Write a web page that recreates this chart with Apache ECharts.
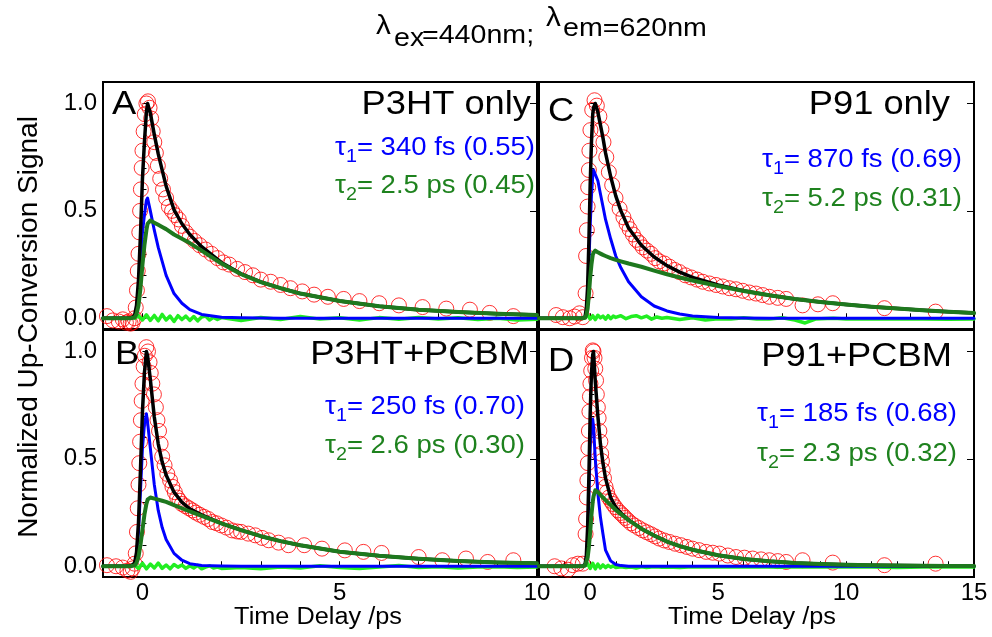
<!DOCTYPE html>
<html>
<head>
<meta charset="utf-8">
<title>Up-conversion decays</title>
<script src="https://cdn.jsdelivr.net/npm/echarts@6/dist/echarts.min.js"></script>
<style>
  html, body { margin: 0; padding: 0; background: #fff; }
  #chart { width: 992px; height: 637px; }
</style>
</head>
<body>
<div id="chart"></div>
<script>
// ---------- tick values ----------
const yTicksMinor = [0, 0.1, 0.2, 0.3, 0.4, 0.5, 0.6, 0.7, 0.8, 0.9, 1.0];
const yTicksMajor = [0, 0.5, 1.0];
const xTicksTopLeft = [0, 2.5, 5, 7.5];
const xTicksTopRight = [0, 2.5, 5, 7.5, 10, 12.5];
const xTicksBottomLeft = [0, 1, 2, 3, 4, 5, 6, 7, 8, 9];
const xTicksBottomRight = [-1, 0, 1, 2, 3, 4, 5, 6, 7, 8, 9, 10, 11, 12, 13, 14];
const xLabelsLeft = [0, 5, 10];
const xLabelsRight = [0, 5, 10, 15];

// ---------- time grids of the fitted curves (ps) ----------
const tLeft = [-1, -0.4, -0.3, -0.25, -0.2, -0.15, -0.1, -0.05, 0, 0.05, 0.1, 0.13, 0.2, 0.3, 0.4, 0.5, 0.6, 0.8, 1, 1.2, 1.5, 2, 2.5, 3, 3.5, 4, 5, 6, 7, 8, 9, 10];
const tRight = [-2, -0.4, -0.3, -0.25, -0.2, -0.15, -0.1, -0.05, 0, 0.05, 0.1, 0.13, 0.2, 0.3, 0.4, 0.5, 0.6, 0.8, 1, 1.2, 1.5, 2, 2.5, 3, 3.5, 4, 5, 6, 7, 8, 9, 10, 11, 12, 13, 14, 15];

// ---------- A: P3HT only ----------
const measA_t = [-0.9, -0.75, -0.6, -0.5, -0.42, -0.35, -0.3, -0.25, -0.2, -0.17, -0.14, -0.12, -0.1, -0.08, -0.06, -0.04, -0.02, 0, 0.03, 0.06, 0.1, 0.14, 0.18, 0.22, 0.26, 0.3, 0.34, 0.39, 0.45, 0.52, 0.6, 0.67, 0.75, 0.83, 0.92, 1.0, 1.1, 1.2, 1.32, 1.45, 1.6, 1.75, 1.9, 2.05, 2.2, 2.4, 2.6, 2.8, 3.0, 3.25, 3.5, 3.75, 4.05, 4.35, 4.7, 5.1, 5.5, 6.0, 6.5, 7.1, 7.7, 8.3, 8.8, 9.4];
const measA = [0.01, -0.01, -0.015, -0.005, -0.02, -0.015, -0.025, -0.02, 0.0, 0.05, 0.13, 0.22, 0.3, 0.4, 0.5, 0.6, 0.7, 0.78, 0.87, 0.95, 1.0, 1.01, 0.98, 0.93, 0.87, 0.82, 0.77, 0.71, 0.65, 0.6, 0.56, 0.52, 0.5, 0.48, 0.46, 0.43, 0.4, 0.38, 0.36, 0.34, 0.32, 0.3, 0.28, 0.26, 0.25, 0.23, 0.215, 0.2, 0.18, 0.17, 0.155, 0.14, 0.125, 0.11, 0.1, 0.09, 0.08, 0.07, 0.06, 0.052, 0.045, 0.04, 0.025, 0.01];
const fitA = [0, 0, 0, 0.003, 0.012, 0.06, 0.18, 0.39, 0.65, 0.82, 0.96, 1.0, 0.955, 0.855, 0.765, 0.69, 0.615, 0.505, 0.44, 0.39, 0.333, 0.26, 0.207, 0.169, 0.14, 0.115, 0.08, 0.056, 0.04, 0.029, 0.021, 0.015];
const fastA = [0, 0, 0, 0.002, 0.008, 0.04, 0.12, 0.25, 0.4, 0.48, 0.55, 0.56, 0.5, 0.41, 0.33, 0.265, 0.2, 0.115, 0.07, 0.04, 0.018, 0.005, 0.002, 0.001, 0, 0, 0, 0, 0, 0, 0, 0];
const slowA = [0, 0, 0, 0.001, 0.004, 0.02, 0.06, 0.14, 0.25, 0.34, 0.41, 0.44, 0.455, 0.445, 0.435, 0.425, 0.415, 0.39, 0.37, 0.35, 0.315, 0.255, 0.205, 0.168, 0.14, 0.115, 0.08, 0.056, 0.04, 0.029, 0.021, 0.015];

// ---------- B: P3HT+PCBM ----------
const measB_t = [-0.9, -0.67, -0.5, -0.38, -0.3, -0.25, -0.2, -0.17, -0.14, -0.12, -0.1, -0.08, -0.06, -0.04, -0.02, 0, 0.03, 0.06, 0.1, 0.14, 0.18, 0.21, 0.25, 0.29, 0.34, 0.38, 0.42, 0.46, 0.5, 0.56, 0.63, 0.7, 0.76, 0.82, 0.88, 0.94, 1.0, 1.09, 1.18, 1.27, 1.35, 1.45, 1.56, 1.67, 1.77, 1.88, 2.0, 2.13, 2.27, 2.4, 2.5, 2.68, 2.86, 3.03, 3.2, 3.45, 3.7, 4.1, 4.55, 5.13, 5.6, 6.06, 7.0, 7.6, 8.2, 8.75, 9.4];
const measB = [0.005, 0, -0.006, -0.02, -0.026, -0.01, 0.012, 0.06, 0.16, 0.27, 0.38, 0.48, 0.58, 0.68, 0.77, 0.85, 0.93, 0.98, 1.02, 1.0, 0.95, 0.9, 0.85, 0.8, 0.74, 0.68, 0.63, 0.57, 0.51, 0.47, 0.43, 0.4, 0.37, 0.345, 0.32, 0.305, 0.29, 0.28, 0.27, 0.26, 0.25, 0.24, 0.23, 0.22, 0.206, 0.2, 0.19, 0.18, 0.167, 0.162, 0.16, 0.152, 0.144, 0.132, 0.121, 0.11, 0.098, 0.098, 0.082, 0.074, 0.067, 0.062, 0.043, 0.028, 0.036, 0.02, 0.028];
const fitB = [0, 0, 0, 0.003, 0.014, 0.065, 0.205, 0.45, 0.72, 0.9, 1.0, 0.98, 0.87, 0.695, 0.57, 0.485, 0.425, 0.345, 0.298, 0.267, 0.239, 0.2, 0.168, 0.14, 0.117, 0.098, 0.068, 0.049, 0.035, 0.025, 0.018, 0.014];
const fastB = [0, 0, 0, 0.002, 0.01, 0.05, 0.16, 0.35, 0.55, 0.66, 0.71, 0.67, 0.55, 0.38, 0.26, 0.18, 0.125, 0.06, 0.028, 0.012, 0.004, 0.001, 0, 0, 0, 0, 0, 0, 0, 0, 0, 0];
const slowB = [0, 0, 0, 0.001, 0.004, 0.015, 0.045, 0.1, 0.17, 0.24, 0.29, 0.31, 0.32, 0.315, 0.31, 0.305, 0.3, 0.285, 0.27, 0.255, 0.235, 0.2, 0.168, 0.14, 0.117, 0.098, 0.068, 0.049, 0.035, 0.025, 0.018, 0.014];

// ---------- C: P91 only ----------
const measC_t = [-1.33, -1.07, -0.8, -0.61, -0.42, -0.29, -0.18, -0.16, -0.13, -0.1, -0.08, -0.05, -0.03, 0.01, 0.08, 0.17, 0.26, 0.36, 0.44, 0.52, 0.63, 0.73, 0.86, 0.99, 1.15, 1.3, 1.42, 1.54, 1.67, 1.8, 1.93, 2.06, 2.22, 2.38, 2.54, 2.7, 2.9, 3.1, 3.3, 3.49, 3.72, 3.95, 4.18, 4.4, 4.66, 4.92, 5.18, 5.44, 5.7, 5.96, 6.22, 6.48, 6.74, 7.0, 7.33, 7.66, 8.3, 8.9, 9.48, 11.5, 13.5];
const measC = [0.015, 0.005, 0, 0.008, 0.023, 0.005, 0.116, 0.29, 0.41, 0.52, 0.61, 0.69, 0.78, 0.876, 0.97, 1.015, 0.99, 0.94, 0.88, 0.82, 0.75, 0.68, 0.62, 0.56, 0.51, 0.47, 0.44, 0.415, 0.39, 0.365, 0.35, 0.33, 0.315, 0.3, 0.28, 0.265, 0.255, 0.24, 0.225, 0.215, 0.2, 0.19, 0.18, 0.17, 0.162, 0.155, 0.148, 0.14, 0.135, 0.128, 0.12, 0.115, 0.108, 0.1, 0.095, 0.09, 0.06, 0.065, 0.07, 0.047, 0.031];
const fitC = [0, 0, 0, 0, 0.007, 0.045, 0.145, 0.36, 0.62, 0.82, 0.95, 0.98, 1.0, 0.96, 0.9, 0.84, 0.77, 0.66, 0.57, 0.5, 0.42, 0.34, 0.285, 0.245, 0.215, 0.19, 0.155, 0.128, 0.107, 0.09, 0.076, 0.064, 0.054, 0.045, 0.037, 0.03, 0.024];
const fastC = [0, 0, 0, 0, 0.005, 0.03, 0.1, 0.25, 0.43, 0.57, 0.66, 0.69, 0.695, 0.64, 0.58, 0.52, 0.46, 0.37, 0.29, 0.235, 0.17, 0.1, 0.057, 0.034, 0.02, 0.011, 0.004, 0.001, 0, 0, 0, 0, 0, 0, 0, 0, 0];
const slowC = [0, 0, 0, 0, 0.002, 0.015, 0.045, 0.11, 0.19, 0.25, 0.295, 0.305, 0.315, 0.307, 0.301, 0.295, 0.29, 0.28, 0.272, 0.265, 0.255, 0.24, 0.222, 0.205, 0.19, 0.176, 0.15, 0.127, 0.107, 0.09, 0.076, 0.064, 0.054, 0.045, 0.037, 0.03, 0.024];

// ---------- D: P91+PCBM ----------
const measD_t = [-1.39, -1.13, -0.87, -0.68, -0.48, -0.29, -0.18, -0.16, -0.13, -0.11, -0.09, -0.07, -0.05, -0.03, -0.01, 0.01, 0.04, 0.07, 0.1, 0.13, 0.17, 0.2, 0.23, 0.26, 0.3, 0.33, 0.36, 0.4, 0.43, 0.46, 0.49, 0.54, 0.6, 0.66, 0.73, 0.81, 0.89, 0.98, 1.08, 1.18, 1.28, 1.37, 1.47, 1.6, 1.73, 1.9, 2.06, 2.22, 2.38, 2.54, 2.7, 2.9, 3.1, 3.32, 3.55, 3.78, 4.0, 4.26, 4.53, 4.79, 5.05, 5.38, 5.7, 6.03, 6.35, 6.68, 7.0, 7.33, 7.66, 8.3, 9.48, 11.5, 13.5];
const measD = [0, -0.01, -0.016, 0.005, 0.012, 0.012, 0.15, 0.22, 0.32, 0.4, 0.48, 0.55, 0.63, 0.72, 0.79, 0.85, 0.91, 0.97, 1.005, 1.0, 0.97, 0.92, 0.865, 0.8, 0.74, 0.69, 0.63, 0.58, 0.524, 0.49, 0.447, 0.41, 0.37, 0.345, 0.32, 0.305, 0.29, 0.275, 0.26, 0.248, 0.237, 0.225, 0.214, 0.2, 0.19, 0.178, 0.167, 0.158, 0.149, 0.139, 0.129, 0.12, 0.113, 0.105, 0.098, 0.09, 0.082, 0.075, 0.067, 0.063, 0.059, 0.05, 0.043, 0.04, 0.036, 0.032, 0.028, 0.024, 0.02, 0.028, 0.017, 0.005, 0.012];
const fitD = [0, 0, 0, 0.001, 0.009, 0.05, 0.18, 0.42, 0.71, 0.9, 0.985, 1.0, 0.86, 0.7, 0.57, 0.48, 0.41, 0.32, 0.275, 0.248, 0.216, 0.175, 0.143, 0.115, 0.094, 0.077, 0.051, 0.034, 0.023, 0.015, 0.01, 0.007, 0.005, 0.003, 0.002, 0.001, 0.001];
const fastD = [0, 0, 0, 0, 0.006, 0.04, 0.14, 0.33, 0.55, 0.67, 0.685, 0.65, 0.5, 0.34, 0.23, 0.15, 0.075, 0.025, 0.008, 0.003, 0, 0, 0, 0, 0, 0, 0, 0, 0, 0, 0, 0, 0, 0, 0, 0, 0];
const slowD = [0, 0, 0, 0, 0.003, 0.012, 0.04, 0.09, 0.16, 0.24, 0.3, 0.325, 0.354, 0.345, 0.333, 0.32, 0.308, 0.285, 0.262, 0.243, 0.215, 0.175, 0.143, 0.115, 0.094, 0.077, 0.051, 0.034, 0.023, 0.015, 0.01, 0.007, 0.005, 0.003, 0.002, 0.001, 0.001];

// ---------- fit residuals ----------
const residLeft_t = [-0.2, -0.1, 0, 0.1, 0.2, 0.3, 0.4, 0.5, 0.6, 0.7, 0.8, 0.9, 1.0, 1.1, 1.2, 1.3, 1.4, 1.5, 1.6, 1.7, 1.8, 1.9, 2.0, 2.5, 3, 3.5, 4, 4.5, 5, 5.5, 6, 6.5, 7, 7.5, 8, 8.5, 9, 9.5, 10];
const residA = [0, 0.012, -0.008, 0.016, -0.01, 0.013, -0.012, 0.018, -0.008, 0.01, -0.015, 0.012, -0.006, 0.01, -0.01, 0.008, -0.012, 0.006, 0.01, -0.008, 0.004, -0.006, 0.003, -0.01, 0.004, -0.006, 0.008, -0.004, 0.002, -0.008, 0.003, -0.005, 0.004, -0.003, 0.002, -0.006, 0, -0.008, -0.005];
const residB = [0.005, -0.01, 0.014, -0.012, 0.01, -0.008, 0.015, -0.01, 0.006, -0.012, 0.008, -0.004, 0.006, -0.01, 0.002, -0.008, 0.004, -0.012, -0.004, 0.002, -0.008, -0.004, -0.01, -0.006, -0.012, -0.004, -0.008, 0.002, -0.006, -0.01, -0.004, 0.004, -0.006, -0.002, -0.008, -0.004, -0.002, -0.006, -0.004];
const residRight_t = [-0.2, -0.1, 0, 0.1, 0.2, 0.3, 0.4, 0.5, 0.6, 0.7, 0.8, 0.9, 1.0, 1.2, 1.4, 1.6, 1.8, 2.0, 2.2, 2.4, 2.6, 2.8, 3.0, 3.5, 4, 4.5, 5, 5.5, 6, 6.5, 7, 7.5, 8, 8.4, 8.8, 9.5, 10, 11, 12, 13, 14, 15];
const residC = [0.004, 0.016, -0.004, 0.012, -0.006, 0.014, 0.002, 0.01, -0.004, 0.012, -0.002, 0.01, 0.004, 0.012, -0.002, 0.008, 0.012, 0.002, 0.01, -0.004, 0.006, 0, 0.004, -0.006, 0.002, -0.008, -0.002, -0.004, 0.002, -0.003, -0.004, 0.002, -0.008, -0.022, -0.004, 0, -0.003, -0.002, -0.004, -0.003, -0.005, -0.004];
const residD = [0.003, 0.012, -0.01, 0.014, -0.012, 0.01, -0.008, 0.006, -0.006, 0.004, -0.004, 0.002, -0.006, -0.002, -0.006, -0.004, -0.008, -0.002, -0.006, -0.004, -0.002, -0.005, -0.003, -0.006, -0.002, -0.004, -0.002, -0.003, -0.004, -0.002, -0.003, -0.005, -0.002, -0.003, -0.004, -0.002, -0.004, -0.003, -0.006, -0.004, -0.002, -0.003];

// ---------- panel annotations ----------
const panelLetters = ['A', 'B', 'C', 'D'];
const sampleNames = ['P3HT only', 'P3HT+PCBM', 'P91 only', 'P91+PCBM'];
const tau1Text = ['= 340 fs (0.55)', '= 250 fs (0.70)', '= 870 fs (0.69)', '= 185 fs (0.68)'];
const tau2Text = ['= 2.5 ps (0.45)', '= 2.6 ps (0.30)', '= 5.2 ps (0.31)', '= 2.3 ps (0.32)'];

// ---------- styling ----------
const FONT = '"Liberation Sans", Arial, Helvetica, sans-serif';
const C_MEAS = '#ff0000';
const C_FIT = '#000000';
const C_FAST = '#0000ff';
const C_SLOW = '#1e781e';
const C_SLOW_TXT = '#1e821e';
const C_RESID = '#22ee22';

const zip = (xs, ys) => xs.map((x, i) => [x, ys[i]]);

const panels = [
  { grid: { left: 103, top: 82, width: 434, height: 247 }, xr: [-1, 10], ticks: xTicksTopLeft, labels: null,
    meas: zip(measA_t, measA), fit: zip(tLeft, fitA), fast: zip(tLeft, fastA), slow: zip(tLeft, slowA), resid: zip(residLeft_t, residA), yLabels: true },
  { grid: { left: 103, top: 330, width: 434, height: 247 }, xr: [-1, 10], ticks: xTicksBottomLeft, labels: xLabelsLeft,
    meas: zip(measB_t, measB), fit: zip(tLeft, fitB), fast: zip(tLeft, fastB), slow: zip(tLeft, slowB), resid: zip(residLeft_t, residB), yLabels: true },
  { grid: { left: 539, top: 82, width: 435, height: 247 }, xr: [-2, 15], ticks: xTicksTopRight, labels: null,
    meas: zip(measC_t, measC), fit: zip(tRight, fitC), fast: zip(tRight, fastC), slow: zip(tRight, slowC), resid: zip(residRight_t, residC), yLabels: false },
  { grid: { left: 539, top: 330, width: 435, height: 247 }, xr: [-2, 15], ticks: xTicksBottomRight, labels: xLabelsRight,
    meas: zip(measD_t, measD), fit: zip(tRight, fitD), fast: zip(tRight, fastD), slow: zip(tRight, slowD), resid: zip(residRight_t, residD), yLabels: false }
];

const grid = [], xAxis = [], yAxis = [], series = [];
panels.forEach((p, i) => {
  grid.push(Object.assign({ show: true, borderColor: '#000', borderWidth: 2, backgroundColor: 'transparent' }, p.grid));
  xAxis.push({
    gridIndex: i, type: 'value', min: p.xr[0], max: p.xr[1],
    axisLine: { show: false }, splitLine: { show: false },
    axisTick: { show: true, inside: true, length: 5, customValues: p.ticks, lineStyle: { color: '#000', width: 1 } },
    axisLabel: p.labels ? { show: true, customValues: p.labels, fontSize: 24, fontFamily: FONT, color: '#000', margin: 4 } : { show: false }
  });
  // minor ticks every 0.1 and labels
  yAxis.push({
    gridIndex: i, type: 'value', min: -0.05, max: 1.1,
    axisLine: { show: false }, splitLine: { show: false },
    axisTick: { show: true, inside: true, length: 4, customValues: yTicksMinor, lineStyle: { color: '#000', width: 1 } },
    axisLabel: p.yLabels ? { show: true, customValues: yTicksMajor, formatter: v => v.toFixed(1), fontSize: 24, fontFamily: FONT, color: '#000', margin: 6 } : { show: false }
  });
  // longer major ticks
  yAxis.push({
    gridIndex: i, type: 'value', min: -0.05, max: 1.1,
    axisLine: { show: false }, splitLine: { show: false },
    axisTick: { show: true, inside: true, length: 7, customValues: yTicksMajor, lineStyle: { color: '#000', width: 1 } },
    axisLabel: { show: false }
  });
  const yi = i * 2;
  const line = (data, color, width, z) => ({
    type: 'line', xAxisIndex: i, yAxisIndex: yi, data, showSymbol: false, symbol: 'none',
    lineStyle: { color, width, cap: 'round', join: 'round' }, z, silent: true, animation: false
  });
  series.push({
    type: 'scatter', xAxisIndex: i, yAxisIndex: yi, data: p.meas, symbol: 'circle', symbolSize: 15,
    itemStyle: { color: 'rgba(0,0,0,0)', borderColor: C_MEAS, borderWidth: 1 }, z: 1, silent: true, animation: false
  });
  series.push(line(p.resid, C_RESID, 3.5, 2));
  series.push(line(p.fast, C_FAST, 3, 3));
  series.push(line(p.fit, C_FIT, 3.5, 4));
  series.push(line(p.slow, C_SLOW, 4, 5));
});

// ---------- text ----------
const SX = 1.1;
function txt(x, y, text, size, color, align, extra) {
  return Object.assign({
    type: 'text', x, y, scaleX: SX, silent: true, z: 100,
    style: { text, fill: color, fontSize: size, fontFamily: FONT, align, verticalAlign: 'middle' }
  }, extra || {});
}
function tauText(x, y, idx, rest, color) {
  return {
    type: 'text', x, y, scaleX: SX, silent: true, z: 100,
    style: {
      text: '{t|τ}{s|' + idx + '}{t|' + rest + '}', align: 'right', verticalAlign: 'middle', fill: color,
      rich: {
        t: { fontSize: 25, fontFamily: FONT, fill: color, lineHeight: 31, verticalAlign: 'top' },
        s: { fontSize: 18, fontFamily: FONT, fill: color, lineHeight: 31, verticalAlign: 'bottom' }
      }
    }
  };
}

const letterPos = [[112, 105], [115, 355], [548, 112], [548, 362]];
const namePos = [[531, 105], [529, 355], [950, 105], [952, 357]];
const tau1Pos = [[535, 151], [525, 410], [962, 163], [957, 417]];
const tau2Pos = [[535, 189], [525, 449], [962, 202], [957, 457]];

const graphic = [];
panels.forEach((p, i) => {
  graphic.push(txt(letterPos[i][0], letterPos[i][1], panelLetters[i], 33, '#000', 'left'));
  graphic.push(txt(namePos[i][0], namePos[i][1], sampleNames[i], 33, '#000', 'right'));
  graphic.push(tauText(tau1Pos[i][0], tau1Pos[i][1], 1, tau1Text[i], C_FAST));
  graphic.push(tauText(tau2Pos[i][0], tau2Pos[i][1], 2, tau2Text[i], C_SLOW_TXT));
});

// title pieces: λex=440nm; λem=620nm
graphic.push(txt(376, 27, 'λ', 27, '#000', 'left'));
graphic.push(txt(394, 39, 'ex', 26, '#000', 'left'));
graphic.push(txt(422, 36, '=440nm;', 26, '#000', 'left'));
graphic.push(txt(546, 19, 'λ', 27, '#000', 'left'));
graphic.push(txt(563, 29, 'em=620nm', 26, '#000', 'left'));

// axis titles
graphic.push(txt(318, 618, 'Time Delay /ps', 23, '#000', 'center'));
graphic.push(txt(752, 618, 'Time Delay /ps', 23, '#000', 'center'));
graphic.push({
  type: 'text', x: 29, y: 327, rotation: Math.PI / 2, silent: true, z: 100,
  style: { text: 'Normalized Up-Conversion Signal', fill: '#000', fontSize: 28, fontFamily: FONT, align: 'center', verticalAlign: 'middle' }
});

const chart = echarts.init(document.getElementById('chart'), null, { renderer: 'canvas' });
chart.setOption({
  animation: false,
  backgroundColor: '#ffffff',
  grid, xAxis, yAxis, series, graphic
});
</script>
</body>
</html>
